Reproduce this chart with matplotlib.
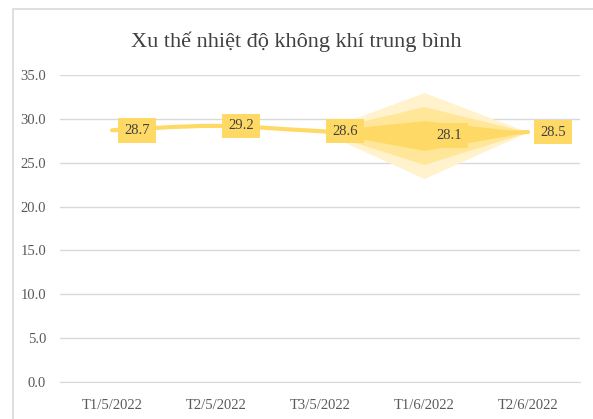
import matplotlib
matplotlib.use('Agg')
import matplotlib.pyplot as plt
from matplotlib.path import Path
from matplotlib.patches import PathPatch, Rectangle

# data
categories = ['T1/5/2022', 'T2/5/2022', 'T3/5/2022', 'T1/6/2022', 'T2/6/2022']
temps = [28.7, 29.2, 28.6, 28.1, 28.5]
# half widths of the shaded bands (start at T3/5, widest at T1/6, closed at T2/6)
band_outer = [0, 0, 0, 4.9, 0]
band_mid = [0, 0, 0, 3.3, 0]
band_inner = [0, 0, 0, 1.7, 0]
title = 'Xu thế nhiệt độ không khí trung bình'

plt.rcParams['font.family'] = ['Liberation Serif', 'DejaVu Serif']

fig = plt.figure(figsize=(5.93, 4.19), dpi=100)
ax = fig.add_axes([60/593, (419-382)/419, 520/593, 307/419])

# chart frame (cropped on right and bottom)
fig.patches.append(Rectangle((13/593, -0.1), 1.0, 1.1 - 9/419, transform=fig.transFigure,
                             fill=False, edgecolor='#D9D9D9', lw=1.2))

x = list(range(len(categories)))
col_line = '#FFD966'

# bands
xs = x[2:]
for hw, c in [(band_outer, '#FFF2CC'), (band_mid, '#FFE699'), (band_inner, '#FFD966')]:
    lo = [temps[i] - hw[i] for i in xs]
    hi = [temps[i] + hw[i] for i in xs]
    ax.fill_between(xs, lo, hi, color=c, lw=0, zorder=2)

# smoothed line (Catmull-Rom style bezier)
pts = list(zip(x, temps))
verts = [pts[0]]
codes = [Path.MOVETO]
for i in range(len(pts) - 1):
    p0 = pts[i - 1] if i > 0 else pts[i]
    p1 = pts[i]
    p2 = pts[i + 1]
    p3 = pts[i + 2] if i + 2 < len(pts) else pts[i + 1]
    c1 = (p1[0] + (p2[0] - p0[0]) / 6, p1[1] + (p2[1] - p0[1]) / 6)
    c2 = (p2[0] - (p3[0] - p1[0]) / 6, p2[1] - (p3[1] - p1[1]) / 6)
    verts += [c1, c2, p2]
    codes += [Path.CURVE4] * 3
ax.add_patch(PathPatch(Path(verts, codes), fill=False, edgecolor=col_line, lw=3,
                       capstyle='round', zorder=3))

# data labels
for xi, v in zip(x, temps):
    ax.annotate('%.1f' % v, (xi, v), xytext=(18, 0), textcoords='offset points',
                ha='center', va='center', fontsize=10.5, color='#404040', zorder=5,
                bbox=dict(boxstyle='square,pad=0.4', fc=col_line, ec='none'))

ax.set_xlim(-0.5, 4.5)
ax.set_ylim(0, 35)
ax.set_yticks([0, 5, 10, 15, 20, 25, 30, 35])
ax.set_yticklabels(['%.1f' % t for t in [0, 5, 10, 15, 20, 25, 30, 35]])
ax.set_xticks(x)
ax.set_xticklabels(categories)
ax.tick_params(length=0, labelsize=10.5, labelcolor='#595959', pad=12)
ax.tick_params(axis='y', pad=10)
ax.grid(axis='y', color='#D9D9D9', lw=1)
ax.set_axisbelow(True)
for s in ['top', 'right', 'left']:
    ax.spines[s].set_visible(False)
ax.spines['bottom'].set_color('#D9D9D9')

fig.text(0.5, 1 - 42/419, title, ha='center', va='center', fontsize=16, color='#404040')

plt.savefig('out.png', dpi=100)
